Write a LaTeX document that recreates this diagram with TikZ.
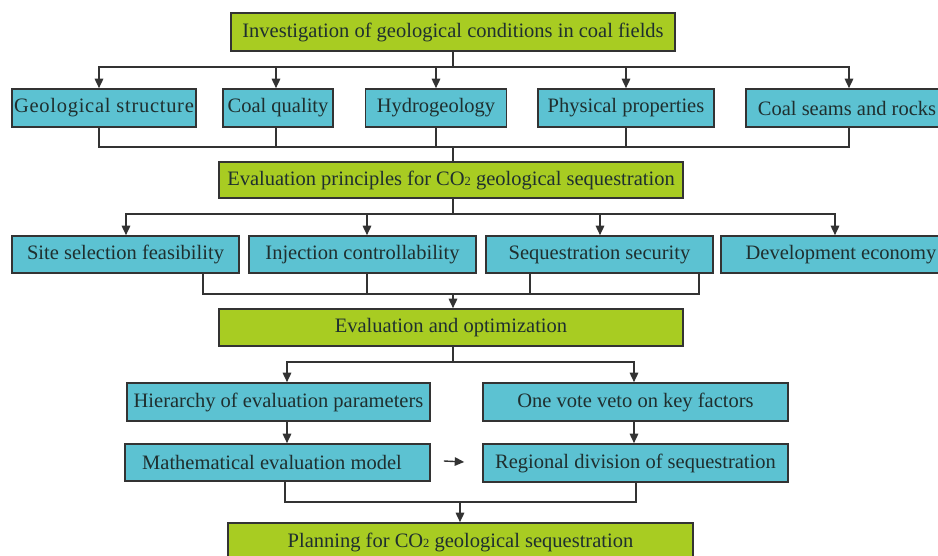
\documentclass[tikz,border=0pt]{standalone}
\usepackage{fontspec}
\setmainfont{Liberation Serif}
\usetikzlibrary{arrows.meta}
\definecolor{boxgreen}{HTML}{A8CC22}
\definecolor{boxteal}{HTML}{5CC2D2}
\definecolor{edge}{HTML}{333333}
\definecolor{txt}{HTML}{1F2F2F}
\newcommand{\cotwo}{CO{\fontsize{12.5}{12.5}\selectfont 2}}
\begin{document}
\begin{tikzpicture}[x=1pt,y=-1pt,
  box/.style={draw=edge, line width=1.6pt, inner sep=0pt, text=txt,
    font=\fontsize{20.5}{22}\selectfont},
  gbox/.style={box, fill=boxgreen},
  tbox/.style={box, fill=boxteal},
  conn/.style={draw=edge, line width=1.6pt},
  arr/.style={conn, -{Triangle[length=9.5pt,width=8.5pt]}}]
\useasboundingbox (0,0) rectangle (938,556);
\fill[white] (0,0) rectangle (938,556);
\clip (0,0) rectangle (938,556);

% nodes
\node[gbox, minimum width=444pt, minimum height=38pt] (top) at (453,32) {Investigation of geological conditions in coal fields};

\node[tbox, minimum width=184pt, minimum height=38pt] (gs) at (104,108) {\addfontfeatures{LetterSpace=3.5}Geological structure};
\node[tbox, minimum width=110pt, minimum height=38pt] (cq) at (278,108) {Coal quality};
\node[tbox, minimum width=141pt, minimum height=38pt] (hy) at (436,108) {Hydrogeology};
\node[tbox, minimum width=176pt, minimum height=38pt] (pp) at (626,108) {Physical properties};
\node[tbox, minimum width=206pt, minimum height=38pt] (cs) at (849,108) {Coal seams and rocks\hspace*{4pt}};

\node[gbox, minimum width=464pt, minimum height=36pt] (ep) at (451,180) {Evaluation principles for \cotwo{} geological sequestration};

\node[tbox, minimum width=227pt, minimum height=37pt] (sf) at (125.5,254.5) {Site selection feasibility};
\node[tbox, minimum width=227pt, minimum height=37pt] (ic) at (362.5,254.5) {Injection controllability};
\node[tbox, minimum width=227pt, minimum height=37pt] (ss) at (599.5,254.5) {Sequestration security};
\node[tbox, minimum width=228pt, minimum height=37pt] (de) at (835,254.5) {\hspace*{12pt}Development economy};

\node[gbox, minimum width=464pt, minimum height=37pt] (eo) at (451,327.5) {Evaluation and optimization};

\node[tbox, minimum width=303pt, minimum height=38pt] (hi) at (278.5,402) {Hierarchy of evaluation parameters};
\node[tbox, minimum width=305pt, minimum height=38pt] (ov) at (635.5,402) {One vote veto on key factors};
\node[tbox, minimum width=305pt, minimum height=37pt] (me) at (277.5,462.5) {Mathematical evaluation model\hspace*{11pt}};
\node[tbox, minimum width=305pt, minimum height=38pt] (rd) at (635.5,463) {Regional division of sequestration};

\node[gbox, minimum width=465pt, minimum height=38pt] (pl) at (460.5,542) {Planning for \cotwo{} geological sequestration};

% junction coordinates
\coordinate (t0) at (453,67);
\coordinate (t1) at (453,147);
\coordinate (t2) at (453,214);
\coordinate (t3) at (453,294);
\coordinate (t4) at (453,362);
\coordinate (t5) at (460,502);

% top -> row 2
\draw[conn] (t0 |- top.south) -- (t0);
\draw[arr] (t0) -| ([xshift=-5pt]gs.north);
\draw[arr] (t0) -| ([xshift=-2pt]cq.north);
\draw[arr] (t0) -| (hy.north);
\draw[arr] (t0) -| (pp.north);
\draw[arr] (t0) -| (cs.north);

% row 2 -> ep
\draw[conn] ([xshift=-5pt]gs.south) |- (t1);
\draw[conn] ([xshift=-2pt]cq.south) |- (t1);
\draw[conn] (hy.south) |- (t1);
\draw[conn] (pp.south) |- (t1);
\draw[conn] (cs.south) |- (t1);
\draw[conn] (t1) -- (t1 |- ep.north);

% ep -> row 3
\draw[conn] (t2 |- ep.south) -- (t2);
\draw[arr] (t2) -| ([xshift=0.5pt]sf.north);
\draw[arr] (t2) -| ([xshift=4.5pt]ic.north);
\draw[arr] (t2) -| ([xshift=0.5pt]ss.north);
\draw[arr] (t2) -| (de.north);

% row 3 -> eo
\draw[conn] ([xshift=77.5pt]sf.south) |- (t3);
\draw[conn] ([xshift=4.5pt]ic.south) |- (t3);
\draw[conn] ([xshift=-69.5pt]ss.south) |- (t3);
\draw[conn] ([xshift=99.5pt]ss.south) |- (t3);
\draw[arr] (t3) -- (t3 |- eo.north);

% eo -> row 4
\draw[conn] (t4 |- eo.south) -- (t4);
\draw[arr] (t4) -| ([xshift=8.5pt]hi.north);
\draw[arr] (t4) -| ([xshift=-1.5pt]ov.north);

% row 4 -> row 5
\draw[arr] ([xshift=8.5pt]hi.south) -- ([xshift=9.5pt]me.north);
\draw[arr] ([xshift=-1.5pt]ov.south) -- ([xshift=-1.5pt]rd.north);
\draw[arr, line width=1.4pt] ([xshift=13pt,yshift=1.5pt]me.east) -- ([xshift=-18pt,yshift=1pt]rd.west);

% row 5 -> pl
\draw[conn] ([xshift=7.5pt]me.south) |- (t5);
\draw[conn] ([xshift=0.5pt]rd.south) |- (t5);
\draw[arr] (t5) -- (t5 |- pl.north);
\end{tikzpicture}
\end{document}
